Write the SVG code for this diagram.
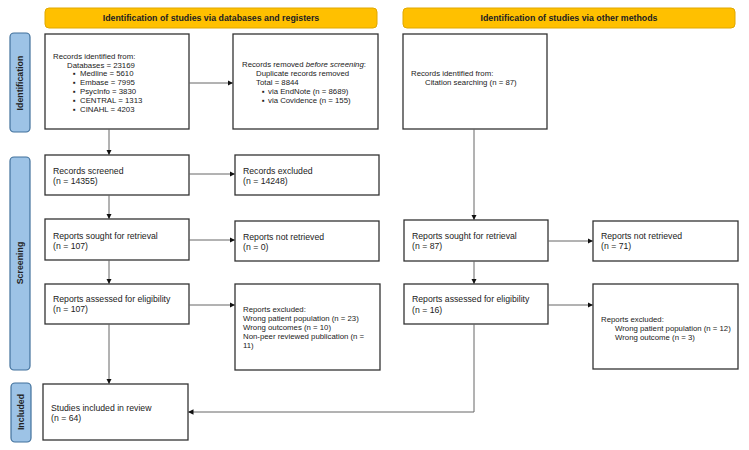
<svg xmlns="http://www.w3.org/2000/svg" width="749" height="450" viewBox="0 0 749 450">
<defs>
<marker id="arr" viewBox="0 0 10 10" refX="10" refY="5" markerWidth="5.5" markerHeight="5.5" orient="auto" markerUnits="userSpaceOnUse">
<path d="M0,0 L10,5 L0,10 z" fill="#111"/>
</marker>
<style>
.box{fill:#fff;stroke:#333;stroke-width:1.3}
.ban{fill:#FFC000;stroke:#E0A800;stroke-width:1}
.side{fill:#9DC3E6;stroke:#41719C;stroke-width:1.2}
.t{font-family:"Liberation Sans",Arial,sans-serif;font-size:7.8px;fill:#222}
.m{font-family:"Liberation Sans",Arial,sans-serif;font-size:8.7px;fill:#222}
.b{font-family:"Liberation Sans",Arial,sans-serif;font-size:8.8px;font-weight:bold;fill:#222}
.c{fill:none;stroke:#666;stroke-width:1}
</style>
</defs>
<rect width="749" height="450" fill="#fff"/>

<g id="banner-left"><rect class="ban" x="45" y="8" width="332" height="20" rx="4"/><text class="b" x="211" y="21.2" text-anchor="middle">Identification of studies via databases and registers</text></g>
<g id="banner-right"><rect class="ban" x="403" y="8" width="332" height="20" rx="4"/><text class="b" x="569" y="21.2" text-anchor="middle">Identification of studies via other methods</text></g>

<g id="label-identification"><rect class="side" x="10" y="33" width="20" height="99" rx="4"/><text class="b" transform="translate(23.2,83) rotate(-90)" text-anchor="middle">Identification</text></g>
<g id="label-screening"><rect class="side" x="10" y="157" width="20" height="213" rx="4"/><text class="b" transform="translate(23.2,263) rotate(-90)" text-anchor="middle">Screening</text></g>
<g id="label-included"><rect class="side" x="11" y="383" width="20" height="59" rx="4"/><text class="b" transform="translate(24.2,412) rotate(-90)" text-anchor="middle">Included</text></g>

<g id="records-identified"><rect class="box" x="45" y="34" width="144" height="95"/>
<text class="t" x="53" y="59">Records identified from:</text>
<text class="t" x="67" y="67.5">Databases = 23169</text>
<text class="t" x="73" y="76">▪</text><text class="t" x="80" y="76">Medline = 5610</text>
<text class="t" x="73" y="85">▪</text><text class="t" x="80" y="85">Embase = 7995</text>
<text class="t" x="73" y="94">▪</text><text class="t" x="80" y="94">PsycInfo = 3830</text>
<text class="t" x="73" y="103">▪</text><text class="t" x="80" y="103">CENTRAL = 1313</text>
<text class="t" x="73" y="112">▪</text><text class="t" x="80" y="112">CINAHL = 4203</text>
</g>
<g id="records-removed"><rect class="box" x="233" y="34" width="145" height="95"/>
<text class="t" x="242" y="67">Records removed <tspan font-style="italic">before screening</tspan>:</text>
<text class="t" x="256" y="76">Duplicate records removed</text>
<text class="t" x="256" y="85">Total = 8844</text>
<text class="t" x="262" y="94">▪</text><text class="t" x="268" y="94">via EndNote (n = 8689)</text>
<text class="t" x="262" y="103">▪</text><text class="t" x="268" y="103">via Covidence (n = 155)</text>
</g>
<g id="records-other"><rect class="box" x="403" y="34" width="144" height="95"/>
<text class="t" x="411" y="76">Records identified from:</text>
<text class="t" x="425" y="85">Citation searching (n = 87)</text>
</g>

<g id="records-screened"><rect class="box" x="45" y="155" width="144" height="40"/>
<text class="m" x="53" y="174">Records screened</text><text class="m" x="53" y="184">(n = 14355)</text></g>
<g id="records-excluded"><rect class="box" x="235" y="155" width="144" height="40"/>
<text class="m" x="243" y="174">Records excluded</text><text class="m" x="243" y="184">(n = 14248)</text></g>

<g id="sought-left"><rect class="box" x="45" y="219" width="144" height="41"/>
<text class="m" x="53" y="239">Reports sought for retrieval</text><text class="m" x="53" y="249">(n = 107)</text></g>
<g id="notretrieved-left"><rect class="box" x="235" y="221" width="144" height="40"/>
<text class="m" x="243" y="240">Reports not retrieved</text><text class="m" x="243" y="250">(n = 0)</text></g>

<g id="assessed-left"><rect class="box" x="45" y="284" width="144" height="40"/>
<text class="m" x="53" y="302">Reports assessed for eligibility</text><text class="m" x="53" y="312">(n = 107)</text></g>
<g id="excluded-left"><rect class="box" x="235" y="284" width="145" height="86"/>
<text class="t" x="243" y="312">Reports excluded:</text>
<text class="t" x="243" y="321">Wrong patient population (n = 23)</text>
<text class="t" x="243" y="330">Wrong outcomes (n = 10)</text>
<text class="t" x="243" y="339">Non-peer reviewed publication (n =</text>
<text class="t" x="243" y="348">11)</text>
</g>

<g id="included"><rect class="box" x="43" y="384" width="145" height="56"/>
<text class="m" x="51" y="411">Studies included in review</text><text class="m" x="51" y="421">(n = 64)</text></g>

<g id="sought-right"><rect class="box" x="404" y="220" width="144" height="41"/>
<text class="m" x="412" y="239">Reports sought for retrieval</text><text class="m" x="412" y="249">(n = 87)</text></g>
<g id="notretrieved-right"><rect class="box" x="593" y="221" width="145" height="40"/>
<text class="m" x="601" y="239">Reports not retrieved</text><text class="m" x="601" y="249">(n = 71)</text></g>
<g id="assessed-right"><rect class="box" x="404" y="284" width="144" height="40"/>
<text class="m" x="412" y="302">Reports assessed for eligibility</text><text class="m" x="412" y="313">(n = 16)</text></g>
<g id="excluded-right"><rect class="box" x="593" y="284" width="145" height="85"/>
<text class="t" x="601" y="322">Reports excluded:</text>
<text class="t" x="615" y="331">Wrong patient population (n = 12)</text>
<text class="t" x="615" y="340">Wrong outcome (n = 3)</text>
</g>

<g id="connectors">
<path class="c" d="M189,83 H233" marker-end="url(#arr)"/>
<path class="c" d="M109,129 V155" marker-end="url(#arr)"/>
<path class="c" d="M189,174 H235" marker-end="url(#arr)"/>
<path class="c" d="M109,195 V219" marker-end="url(#arr)"/>
<path class="c" d="M189,240 H235" marker-end="url(#arr)"/>
<path class="c" d="M109,260 V284" marker-end="url(#arr)"/>
<path class="c" d="M189,305 H235" marker-end="url(#arr)"/>
<path class="c" d="M109,324 V384" marker-end="url(#arr)"/>
<path class="c" d="M474,129 V220" marker-end="url(#arr)"/>
<path class="c" d="M548,241 H593" marker-end="url(#arr)"/>
<path class="c" d="M474,261 V284" marker-end="url(#arr)"/>
<path class="c" d="M548,305 H593" marker-end="url(#arr)"/>
<path class="c" d="M474,324 V412 H188" marker-end="url(#arr)"/>
</g>
</svg>
